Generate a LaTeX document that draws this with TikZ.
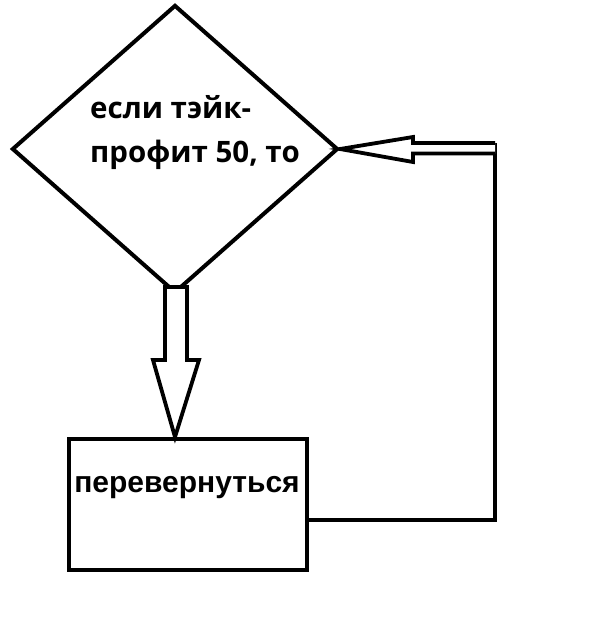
\documentclass[tikz,border=0pt]{standalone}
\usepackage{fontspec}
\setmainfont{Liberation Sans}
\newfontfamily\dfont{Open Sans}
\usetikzlibrary{shapes.geometric,calc}
\begin{document}
\begin{tikzpicture}[x=1pt,y=-1pt,
  shapeline/.style={draw=black,line width=4pt,line join=miter},
  blockarrow/.style={draw=black,line width=3.8pt,line join=miter,fill=white},
  wire/.style={draw=black,line width=4pt},
  dtext/.style={font=\dfont\bfseries\fontsize{29.5}{44}\selectfont,align=left,inner sep=0pt},
  rtext/.style={font=\bfseries\fontsize{30}{34}\selectfont,inner sep=0pt}]
\useasboundingbox[fill=white] (0,0) rectangle (604,630);
% decision diamond
\node[shapeline,shape=diamond,minimum width=326pt,minimum height=288pt,inner sep=0pt] (d) at (175,149) {};
\node[dtext,anchor=base west] (dt) at (90,162) {если тэйк-\\профит 50, то};
% action rectangle
\node[shapeline,rectangle,minimum width=238pt,minimum height=131pt,inner sep=0pt] (r) at (188,504.5) {};
\node[rtext,anchor=base] (rt) at (187,492) {перевернуться};
% down block arrow from diamond to rectangle
\coordinate (tip) at (d.south |- r.north);
\draw[blockarrow] ($(d.south)+(-10,-8)$) -- ++(0,73) -- ++(-12,0) -- (tip) -- ($(d.south)+(24,65)$) -- ++(-12,0) -- ++(0,-73) -- cycle;
% return line
\coordinate (c1) at (495,520);
\coordinate (c2) at (495,143);
\draw[wire] (r.east |- c1) -- (c1) -- (c2);
% left block arrow into diamond
\draw[blockarrow] (c2) -- (413,143) -- (413,137) -- (d.east) -- (413,162) -- (413,153.5) -- (c2 |- 0,153.5);
\end{tikzpicture}
\end{document}
